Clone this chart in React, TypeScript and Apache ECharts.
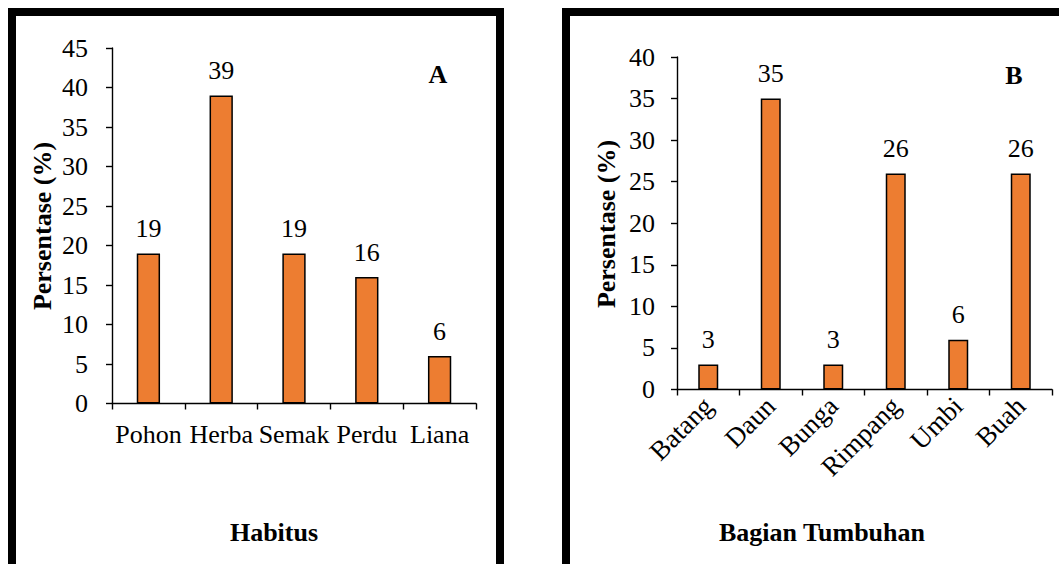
import React, { useEffect, useRef } from "react";
import * as echarts from "echarts";

const habitusCategories = ["Pohon", "Herba", "Semak", "Perdu", "Liana"];
const habitusValues = [19, 39, 19, 16, 6];
const bagianCategories = ["Batang", "Daun", "Bunga", "Rimpang", "Umbi", "Buah"];
const bagianValues = [3, 35, 3, 26, 6, 26];
const yTitle = "Persentase (%)";
const xTitleA = "Habitus";
const xTitleB = "Bagian Tumbuhan";
const panelLetters = ["A", "B"];

const FONT = "Liberation Serif";
const BAR_COLOR = "#ED7D31";

export default function App() {
  const ref = useRef<HTMLDivElement>(null);
  useEffect(() => {
    if (!ref.current) return;
    const chart = echarts.init(ref.current, undefined, { renderer: "svg" });
    const axisLine = { show: true, lineStyle: { color: "#000", width: 1.4 } };
    const yAxisCommon = (max: number, margin: number) => ({
      type: "value",
      min: 0,
      max,
      interval: 5,
      axisLine,
      axisTick: { show: true, inside: false, length: 6, lineStyle: { color: "#000", width: 1.4 } },
      splitLine: { show: false },
      axisLabel: { color: "#000", fontFamily: FONT, fontSize: 26, margin },
    });
    const xAxisCommon = (cats: string[], labelExtra: any) => ({
      type: "category",
      data: cats,
      boundaryGap: true,
      axisLine,
      axisTick: { show: true, inside: false, length: 6, alignWithLabel: false, lineStyle: { color: "#000", width: 1.4 } },
      axisLabel: { color: "#000", fontFamily: FONT, fontSize: 26, interval: 0, ...labelExtra },
    });
    const barSeries = (data: number[], idx: number) => ({
      type: "bar",
      xAxisIndex: idx,
      yAxisIndex: idx,
      data,
      barWidth: "32%",
      itemStyle: { color: BAR_COLOR, borderColor: "#000", borderWidth: 1.5 },
      label: {
        show: true,
        position: "top",
        distance: 12,
        color: "#000",
        fontFamily: FONT,
        fontSize: 26,
      },
    });
    const boldText = (x: number, y: number, text: string, rotation = 0) => ({
      type: "text",
      x,
      y,
      rotation,
      style: {
        text,
        fill: "#000",
        fontFamily: FONT,
        fontWeight: "bold",
        fontSize: 26,
        align: "center",
        verticalAlign: "middle",
      },
    });
    chart.setOption({
      animation: false,
      backgroundColor: "#fff",
      grid: [
        { left: 112, right: 1059 - 476, top: 48, bottom: 564 - 403.5 },
        { left: 677, right: 1059 - 1052, top: 57, bottom: 564 - 389.5 },
      ],
      xAxis: [
        { ...xAxisCommon(habitusCategories, { margin: 18 }), gridIndex: 0 },
        { ...xAxisCommon(bagianCategories, { margin: 12, rotate: 45, fontSize: 27 }), gridIndex: 1 },
      ],
      yAxis: [
        { ...yAxisCommon(45, 24), gridIndex: 0 },
        { ...yAxisCommon(40, 22), gridIndex: 1 },
      ],
      series: [barSeries(habitusValues, 0), barSeries(bagianValues, 1)],
      graphic: [
        {
          type: "rect",
          shape: { x: 12, y: 12, width: 488, height: 620 },
          style: { fill: "none", stroke: "#000", lineWidth: 8 },
          z: 100,
        },
        {
          type: "rect",
          shape: { x: 566, y: 12, width: 600, height: 620 },
          style: { fill: "none", stroke: "#000", lineWidth: 8 },
          z: 100,
        },
        boldText(42, 226, yTitle, Math.PI / 2),
        boldText(606, 224, yTitle, Math.PI / 2),
        boldText(274, 532, xTitleA),
        boldText(822, 532, xTitleB),
        boldText(438, 74, panelLetters[0]),
        boldText(1014, 75, panelLetters[1]),
      ],
    });
    return () => chart.dispose();
  }, []);
  return (
    <div
      ref={ref}
      style={{ position: "fixed", left: 0, top: 0, width: 1059, height: 564 }}
    />
  );
}
